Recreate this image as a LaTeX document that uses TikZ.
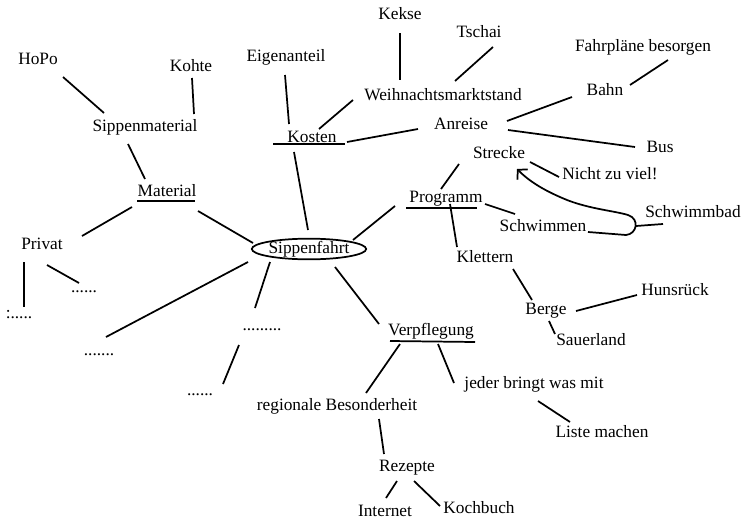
\documentclass[tikz,border=0pt]{standalone}
\usepackage{fontspec}
\setmainfont{Liberation Serif}
\usetikzlibrary{arrows.meta,shapes.geometric}
\newcommand\lk[4]{\draw[conn] ([shift={(#2)}]#1.center) -- ([shift={(#4)}]#3.center);}
\begin{document}
\begin{tikzpicture}[x=0.75pt,y=-0.75pt,
  lbl/.style={inner sep=0pt,text height=0.68em,text depth=0pt,font=\fontsize{13}{15}\selectfont},
  conn/.style={line width=1.3pt},
  uline/.style={line width=1.3pt}]
\useasboundingbox (0,0) rectangle (742,521);
% nodes
\node[lbl] (hopo) at (38,60) {HoPo};
\node[lbl] (kohte) at (191,67) {Kohte};
\node[lbl] (eigen) at (286,57) {Eigenanteil};
\node[lbl] (sippm) at (145,127) {Sippenmaterial};
\node[lbl] (material) at (167,192) {Material};
\node[lbl] (kosten) at (312,138) {Kosten};
\node[lbl] (privat) at (42,245) {Privat};
\node[lbl,draw,ellipse,line width=1.3pt,minimum width=69pt,minimum height=15.5pt] (sf) at (309,249) {Sippenfahrt};
\node[lbl] (kekse) at (400,15) {Kekse};
\node[lbl] (tschai) at (479,33) {Tschai};
\node[lbl] (fahr) at (643,47) {Fahrpläne besorgen};
\node[lbl] (weih) at (443,96) {Weihnachtsmarktstand};
\node[lbl] (bahn) at (605,91) {Bahn};
\node[lbl] (anreise) at (461,125) {Anreise};
\node[lbl] (bus) at (660,148) {Bus};
\node[lbl] (strecke) at (499,154) {Strecke};
\node[lbl] (nicht) at (610,175) {Nicht zu viel!};
\node[lbl] (programm) at (446,198) {Programm};
\node[lbl] (schwimmbad) at (693,213) {Schwimmbad};
\node[lbl] (schwimmen) at (543,227) {Schwimmen};
\node[lbl] (klettern) at (485,258) {Klettern};
\node[lbl] (berge) at (546,310) {Berge};
\node[lbl] (huns) at (675,291) {Hunsrück};
\node[lbl] (sauer) at (591,341) {Sauerland};
\node[lbl] (verpfl) at (431,331) {Verpflegung};
\node[lbl] (jeder) at (534,384) {jeder bringt was mit};
\node[lbl] (liste) at (602,433) {Liste machen};
\node[lbl] (regional) at (337,406) {regionale Besonderheit};
\node[lbl] (rezepte) at (407,467) {Rezepte};
\node[lbl] (internet) at (385,512) {Internet};
\node[lbl] (kochbuch) at (479,509) {Kochbuch};
\node[lbl] (d1) at (19,314) {:.....};
\node[lbl] (d2) at (84,288) {......};
\node[lbl] (d3) at (99,351) {.......};
\node[lbl] (d4) at (262,326) {.........};
\node[lbl] (d5) at (200,391) {......};
\coordinate (turn) at (636,226);
% underlines
\draw[uline] ([shift={(-30,9)}]material.center) -- ([shift={(28,9)}]material.center);
\draw[uline] ([shift={(-39,6)}]kosten.center) -- ([shift={(33,6)}]kosten.center);
\draw[uline] ([shift={(-40,10)}]programm.center) -- ([shift={(31,10)}]programm.center);
\draw[uline] ([shift={(-41,10)}]verpfl.center) -- ([shift={(44,11)}]verpfl.center);
% connectors
\lk{hopo}{25,17}{sippm}{-41,-14}
\lk{kohte}{1,11}{sippm}{49,-13}
\lk{sippm}{-17,17}{material}{-22,-13}
\lk{material}{-35,15}{privat}{40,-9}
\lk{material}{31,19}{sf}{-56,-6}
\lk{eigen}{-1,18}{kosten}{-23,-14}
\lk{kosten}{7,-9}{weih}{-90,4}
\lk{kosten}{35,4}{anreise}{-43,4}
\lk{kosten}{-18,14}{sf}{-1,-19}
\lk{sf}{44,-9}{programm}{-51,8}
\lk{kekse}{0,18}{weih}{-43,-16}
\lk{tschai}{14,14}{weih}{12,-15}
\lk{fahr}{25,13}{bahn}{25,-6}
\lk{bahn}{-33,6}{anreise}{46,-4}
\lk{anreise}{47,5}{bus}{-25,-1}
\lk{strecke}{-40,10}{programm}{-5,-9}
\lk{strecke}{31,8}{nicht}{-51,2}
\lk{programm}{39,6}{schwimmen}{-28,-13}
\lk{programm}{4,6}{klettern}{-28,-11}
\lk{klettern}{28,11}{berge}{-14,-10}
\lk{berge}{30,1}{huns}{-38,4}
\lk{berge}{3,11}{sauer}{-36,-7}
\lk{sf}{26,18}{verpfl}{-52,-7}
\lk{verpfl}{-31,13}{regional}{29,-13}
\lk{verpfl}{7,13}{jeder}{-80,-1}
\lk{jeder}{4,17}{liste}{-32,-11}
\lk{regional}{42,13}{rezepte}{-23,-13}
\lk{rezepte}{-10,14}{internet}{1,-14}
\lk{rezepte}{7,14}{kochbuch}{-39,-3}
\lk{privat}{-18,17}{d1}{5,-7}
\lk{privat}{5,20}{d2}{-5,-5}
\lk{sf}{-61,13}{d3}{7,-14}
\lk{sf}{-39,13}{d4}{-7,-18}
\lk{d4}{-23,19}{d5}{23,-7}
% arrow loop
\draw[conn,-{Straight Barb[length=5pt,width=11pt]}] ([shift={(45,5)}]schwimmen.center) -- (626,235)
  .. controls (637,234) and (640,219) .. (628,215)
  .. controls (615,211) and (590,209) .. (567,200)
  .. controls (545,191) and (530,182) .. ([shift={(18,15)}]strecke.center);
\draw[conn] ([shift={(-30,11)}]schwimmbad.center) -- (turn);
\end{tikzpicture}
\end{document}
